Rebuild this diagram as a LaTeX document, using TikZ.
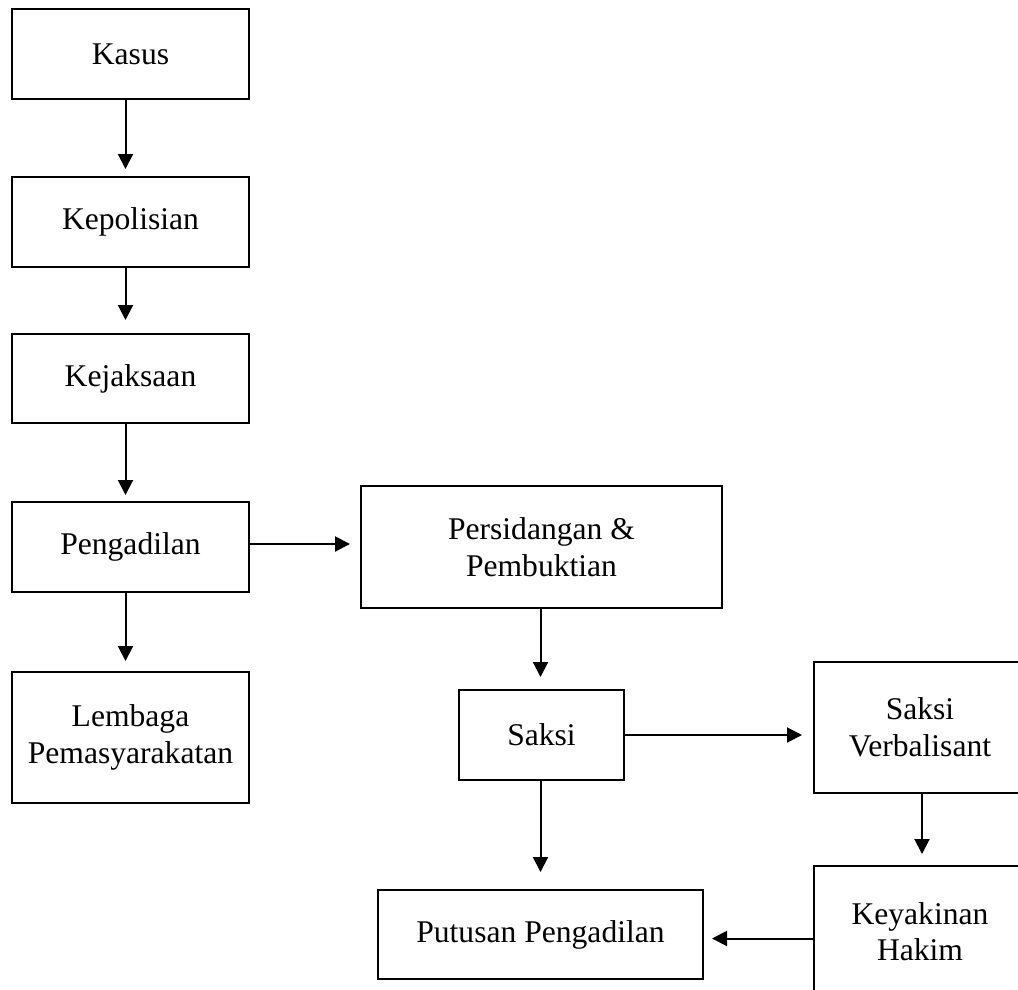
\documentclass[tikz,border=0pt]{standalone}
\usepackage{fontspec}
\setmainfont{Liberation Serif}
\usetikzlibrary{arrows.meta}
\begin{document}
\begin{tikzpicture}[x=1pt,y=-1pt,
  box/.style={draw,line width=2pt,rectangle,inner sep=0pt,align=center,
    font=\fontsize{31.6}{36.5}\selectfont},
  arr/.style={line width=2pt,-{Triangle[length=15pt,width=15pt]}}]
\useasboundingbox (0,0) rectangle (1018,989);
\clip (0,0) rectangle (1018,989);
\node[box,minimum width=237pt,minimum height=90pt] (kasus) at (130.5,54) {Kasus};
\node[box,minimum width=237pt,minimum height=90pt] (kepol) at (130.5,222) {Kepolisian};
\node[box,minimum width=237pt,minimum height=89pt] (kejak) at (130.5,378.5) {Kejaksaan};
\node[box,minimum width=237pt,minimum height=90pt] (peng) at (130.5,547) {Pengadilan};
\node[box,minimum width=237pt,minimum height=131pt] (lemb) at (130.5,737.5) {Lembaga\\Pemasyarakatan};
\node[box,minimum width=361pt,minimum height=122pt] (pers) at (541.5,547) {Persidangan \&\\Pembuktian};
\node[box,minimum width=165pt,minimum height=90pt] (saksi) at (541.5,735) {Saksi};
\node[box,minimum width=212pt,minimum height=131pt] (sv) at (920,727.5) {Saksi\\Verbalisant};
\node[box,minimum width=212pt,minimum height=131pt] (key) at (920,931.5) {Keyakinan\\Hakim};
\node[box,minimum width=325pt,minimum height=89pt] (put) at (540.5,934.5) {Putusan Pengadilan};

\draw[arr,shorten >=7pt] ([xshift=-5pt]kasus.south) -- ([xshift=-5pt]kepol.north);
\draw[arr,shorten >=13pt] ([xshift=-5pt]kepol.south) -- ([xshift=-5pt]kejak.north);
\draw[arr,shorten >=6pt] ([xshift=-5pt]kejak.south) -- ([xshift=-5pt]peng.north);
\draw[arr,shorten >=10pt] ([xshift=-5pt]peng.south) -- ([xshift=-5pt]lemb.north);
\draw[arr,shorten >=10pt] ([yshift=3pt]peng.east) -- ([yshift=3pt]pers.west);
\draw[arr,shorten >=12pt] ([xshift=-1pt]pers.south) -- ([xshift=-1pt]saksi.north);
\draw[arr,shorten >=17pt] ([xshift=-1pt]saksi.south) -- ([xshift=-1pt]saksi.south |- put.north);
\draw[arr,shorten >=11pt] (saksi.east) -- (saksi.east -| sv.west);
\draw[arr,shorten >=11pt] ([xshift=2pt]sv.south) -- ([xshift=2pt]key.north);
\draw[arr,shorten >=8pt] ([yshift=-4pt]key.west |- put.east) -- ([yshift=-4pt]put.east);
\end{tikzpicture}
\end{document}
